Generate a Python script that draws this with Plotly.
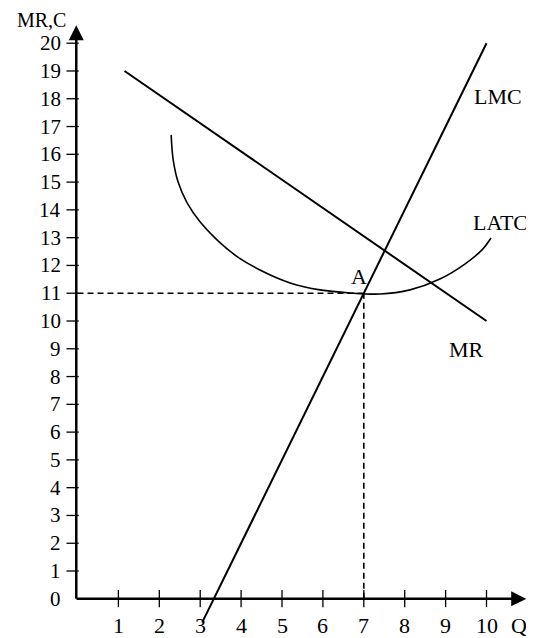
import plotly.graph_objects as go

# (Q on x, MR/C on y)
mr_q = [1.15, 10.0]
mr_c = [19.0, 10.0]

lmc_q = [3.05, 10.0]
lmc_c = [-0.85, 20.0]

latc_q = [2.29, 2.34, 2.46, 2.68, 3.0, 3.41, 3.92, 4.51, 5.2, 5.93, 6.66, 7.4, 8.13, 8.86, 9.47, 9.89, 10.11]
latc_c = [16.7, 15.8, 15.0, 14.25, 13.56, 12.92, 12.3, 11.8, 11.37, 11.12, 11.01, 10.97, 11.12, 11.51, 12.05, 12.56, 12.99]

point_a = (7, 11)

x_ticks = [1, 2, 3, 4, 5, 6, 7, 8, 9, 10]
y_ticks = list(range(0, 21))

FONT = "Liberation Serif"

fig = go.Figure()

fig.add_trace(go.Scatter(x=mr_q, y=mr_c, mode="lines", line=dict(color="black", width=2)))
fig.add_trace(go.Scatter(x=lmc_q, y=lmc_c, mode="lines", line=dict(color="black", width=2)))
fig.add_trace(go.Scatter(x=latc_q, y=latc_c, mode="lines", line=dict(color="black", width=1.6, shape="spline", smoothing=1)))

# dashed guides to A
dash = dict(color="black", width=1.6, dash="6px,4px")
fig.add_shape(type="line", x0=0, y0=point_a[1], x1=point_a[0], y1=point_a[1], line=dash)
fig.add_shape(type="line", x0=point_a[0], y0=0, x1=point_a[0], y1=point_a[1], line=dash)

# axes with arrows
fig.add_annotation(x=-0.03, y=20.65, ax=-0.03, ay=-0.05, xref="x", yref="y", axref="x", ayref="y",
                   showarrow=True, arrowhead=2, arrowsize=1.2, arrowwidth=2.5, arrowcolor="black",
                   text="", standoff=0, startstandoff=0)
fig.add_annotation(x=10.97, y=0, ax=-0.06, ay=0, xref="x", yref="y", axref="x", ayref="y",
                   showarrow=True, arrowhead=2, arrowsize=1.2, arrowwidth=2.5, arrowcolor="black",
                   text="", standoff=0, startstandoff=0)

for t in x_ticks:
    fig.add_shape(type="line", x0=t, y0=-0.3, x1=t, y1=0.32, line=dict(color="black", width=1.3))
    fig.add_annotation(x=t, y=-0.95, text=str(t), showarrow=False, xanchor="center", yanchor="middle",
                       font=dict(family=FONT, size=22, color="black"))

for t in y_ticks:
    if t > 0:
        fig.add_shape(type="line", x0=-0.27, y0=t, x1=0.03, y1=t, line=dict(color="black", width=1.3))
    fig.add_annotation(x=-0.39, y=t, text=str(t), showarrow=False, xanchor="right", yanchor="middle",
                       borderpad=0, font=dict(family=FONT, size=21, color="black"))

labels = [
    ("LMC", 9.67, 18.07, "left", 22),
    ("LATC", 9.65, 13.53, "left", 22),
    ("MR", 9.06, 8.96, "left", 22),
    ("A", 6.89, 11.6, "center", 22),
    ("MR,C", -0.26, 20.83, "right", 20),
    ("Q", 10.8, -0.95, "center", 22),
]
for txt, lx, ly, anc, sz in labels:
    fig.add_annotation(x=lx, y=ly, text=txt, showarrow=False, xanchor=anc, yanchor="middle",
                       borderpad=0, font=dict(family=FONT, size=sz, color="black"))

# the page puts the figure 8px in from the corner, so the ranges are set for a 526x630 figure
fig.update_xaxes(range=[-1.699, 11.161], visible=False)
fig.update_yaxes(range=[-1.411, 21.267], visible=False)
fig.update_layout(width=526, height=630, margin=dict(l=0, r=0, t=0, b=0),
                  showlegend=False, plot_bgcolor="white", paper_bgcolor="white")

fig.write_html("out.html")
